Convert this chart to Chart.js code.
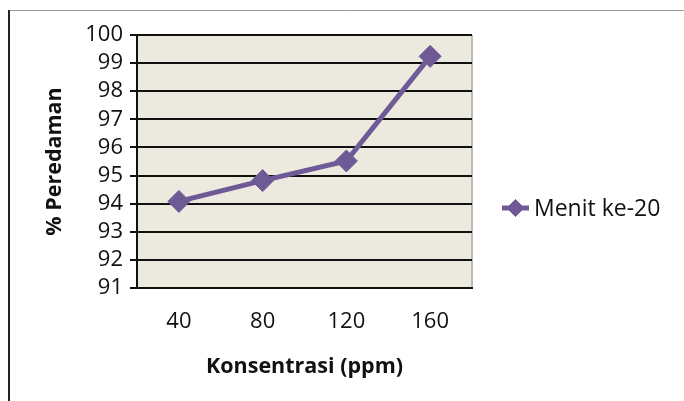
<!DOCTYPE html>
<html>
<head>
<meta charset="utf-8">
<script src="https://cdn.jsdelivr.net/npm/chart.js@4/dist/chart.umd.min.js"></script>
<style>
  html, body { margin: 0; padding: 0; background: #ffffff; }
  #wrap { width: 684px; height: 401px; position: relative; }
</style>
</head>
<body>
<div id="wrap"><canvas id="c" width="684" height="401"></canvas></div>
<script>
// Concentration levels (ppm) and damping percentage at minute 20
const categories = ['40', '80', '120', '160'];
const peredaman = [94.08, 94.82, 95.52, 99.24];
const seriesName = 'Menit ke-20';
const yTitle = '% Peredaman';
const xTitle = 'Konsentrasi (ppm)';

const FONT = "'Open Sans', 'Noto Sans', sans-serif";
const LINE = '#6E5A96';

// Outer frame, plot background and right edge of the plot area
const framePlugin = {
  id: 'frame',
  beforeDraw(chart) {
    const { ctx, chartArea: a } = chart;
    ctx.save();
    ctx.fillStyle = '#ECE9DF';
    ctx.fillRect(a.left, a.top, a.right - a.left, a.bottom - a.top);
    ctx.strokeStyle = '#BDBBB4';
    ctx.lineWidth = 2;
    ctx.beginPath();
    ctx.moveTo(a.right, a.top);
    ctx.lineTo(a.right, a.bottom);
    ctx.stroke();
    // page frame
    ctx.strokeStyle = '#9a9a9a';
    ctx.lineWidth = 1;
    ctx.beginPath();
    ctx.moveTo(9, 10.5);
    ctx.lineTo(684, 10.5);
    ctx.stroke();
    ctx.strokeStyle = '#222';
    ctx.lineWidth = 2;
    ctx.beginPath();
    ctx.moveTo(9, 10);
    ctx.lineTo(9, 401);
    ctx.stroke();
    ctx.restore();
  }
};

// Legend entry drawn to the right of the plot
const legendPlugin = {
  id: 'sideLegend',
  afterDraw(chart) {
    const { ctx } = chart;
    const ds = chart.data.datasets[0];
    const y = 208;
    ctx.save();
    ctx.strokeStyle = ds.borderColor;
    ctx.lineWidth = 5;
    ctx.beginPath();
    ctx.moveTo(502, y);
    ctx.lineTo(529, y);
    ctx.stroke();
    ctx.fillStyle = ds.pointBackgroundColor;
    ctx.strokeStyle = ds.pointBorderColor;
    ctx.lineWidth = 1;
    Chart.helpers.drawPoint(ctx, { pointStyle: 'rectRot', radius: 8.5, rotation: 0, borderWidth: 1 }, 515.5, y);
    ctx.fillStyle = '#111';
    ctx.font = '23px ' + FONT;
    ctx.textBaseline = 'middle';
    ctx.textAlign = 'left';
    ctx.fillText(ds.label, 534, y + 1);
    ctx.restore();
  }
};

new Chart(document.getElementById('c'), {
  type: 'line',
  data: {
    labels: categories,
    datasets: [{
      label: seriesName,
      data: peredaman,
      borderColor: LINE,
      borderWidth: 5,
      pointStyle: 'rectRot',
      pointRadius: 11,
      pointBackgroundColor: LINE,
      pointBorderColor: LINE,
      pointBorderWidth: 1,
      tension: 0
    }]
  },
  options: {
    responsive: false,
    animation: false,
    events: [],
    layout: { padding: { left: 0, top: 35, right: 212, bottom: 0 } },
    plugins: { legend: { display: false }, tooltip: { enabled: false } },
    scales: {
      x: {
        offset: true,
        grid: { display: false, drawTicks: false, tickLength: 0 },
        border: { display: true, color: '#111', width: 2 },
        ticks: { color: '#111', font: { family: FONT, size: 22 }, padding: 21, autoSkip: false, maxRotation: 0 },
        title: { display: true, text: xTitle, color: '#111', font: { family: FONT, size: 21.5, weight: 'bold' }, padding: { top: 0, bottom: 21 } },
        afterFit(s) { s.height = 401 - 288; }
      },
      y: {
        min: 91,
        max: 100,
        ticks: { stepSize: 1, color: '#111', font: { family: FONT, size: 22 }, padding: 7, autoSkip: false },
        grid: { color: '#111', lineWidth: 2, tickLength: 7, drawTicks: true },
        border: { display: true, color: '#111', width: 2 },
        title: { display: true, text: yTitle, color: '#111', font: { family: FONT, size: 21.5, weight: 'bold' }, padding: { top: 42, bottom: 0 } },
        afterFit(s) { s.width = 137; }
      }
    }
  },
  plugins: [framePlugin, legendPlugin]
});
</script>
</body>
</html>
